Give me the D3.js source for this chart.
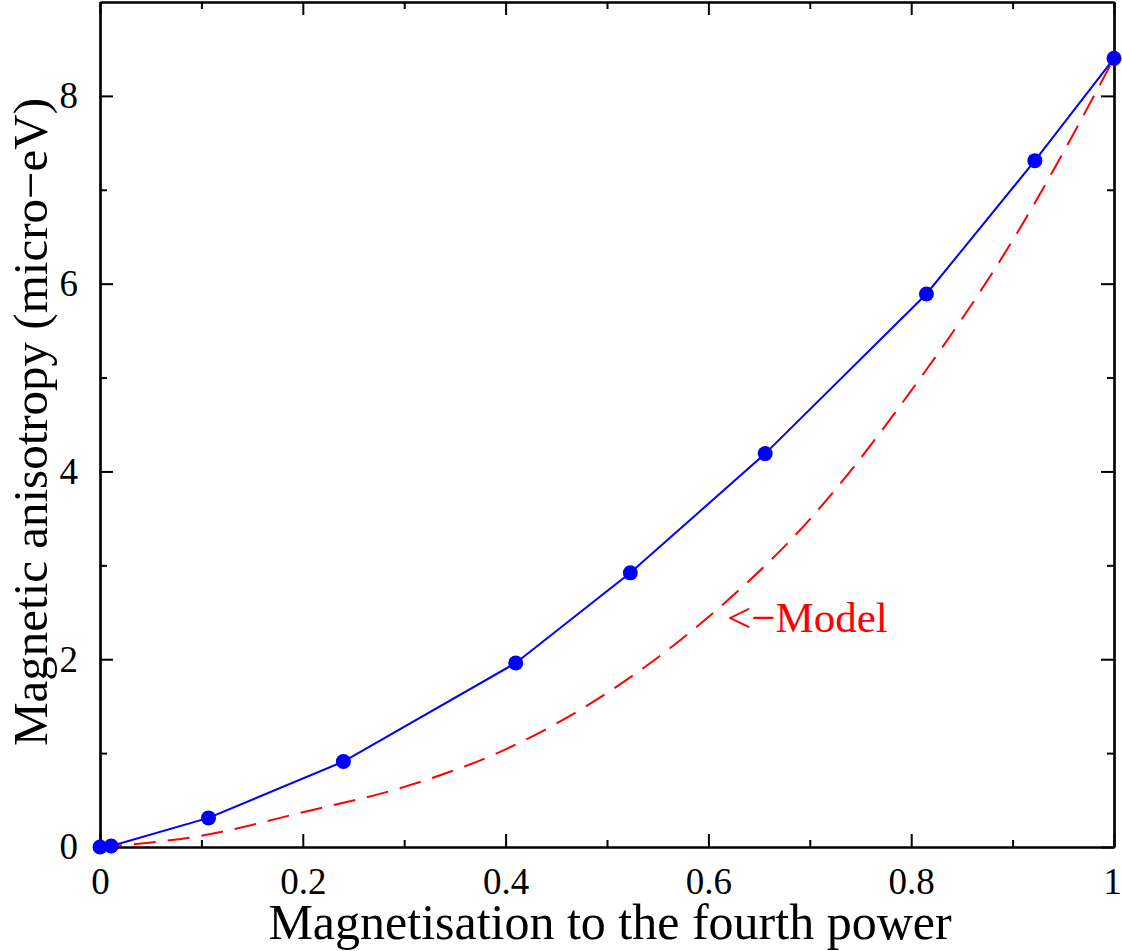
<!DOCTYPE html>
<html>
<head>
<meta charset="utf-8">
<script src="https://cdn.jsdelivr.net/npm/d3@7"></script>
<style>
  html, body { margin: 0; padding: 0; background: #fff; }
  svg { display: block; }
  svg text { font-family: "Liberation Serif", "Times New Roman", serif; }
</style>
</head>
<body>
<svg id="chart" width="1122" height="951"></svg>
<script>
// Data
const dataX = [0, 0.011, 0.107, 0.240, 0.410, 0.523, 0.656, 0.815, 0.922, 1.0];
const dataY = [0, 0.01, 0.31, 0.91, 1.96, 2.92, 4.19, 5.89, 7.31, 8.40];
const modelX = [0, 0.1, 0.2, 0.3, 0.4, 0.5, 0.6, 0.7, 0.8, 0.9, 1.0];
const modelY = [0, 0.12, 0.37, 0.64, 1.04, 1.64, 2.45, 3.49, 4.86, 6.46, 8.40];
const xMajorTicks = [0, 0.2, 0.4, 0.6, 0.8, 1];
const xTickLabels = ["0", "0.2", "0.4", "0.6", "0.8", "1"];
const xMinorTicks = [0.1, 0.3, 0.5, 0.7, 0.9];
const yMajorTicks = [0, 2, 4, 6, 8];
const yTickLabels = ["0", "2", "4", "6", "8"];
const yMinorTicks = [1, 3, 5, 7];
const xTitle = "Magnetisation to the fourth power";
const yTitle = "Magnetic anisotropy (micro\u2212eV)";
const modelLabel = "<\u2212Model";

const svg = d3.select("#chart");
const L = 100, R = 1114, T = 2, B = 847;
const x = d3.scaleLinear().domain([0, 1]).range([L, R]);
const y = d3.scaleLinear().domain([0, 9]).range([B, T]);

const majorLen = 13, minorLen = 7;
const FONT = "Liberation Serif";

function styleAxis(g) {
  g.attr("font-family", FONT);
  g.selectAll("path.domain").attr("stroke", "#000").attr("stroke-width", 2.2);
  g.selectAll(".tick line").attr("stroke", "#000").attr("stroke-width", 2);
}
// bottom
const gxB = svg.append("g").attr("transform", `translate(0,${B})`)
  .call(d3.axisBottom(x).tickValues(xMajorTicks).tickSizeInner(-majorLen).tickSizeOuter(0)
    .tickPadding(majorLen + 8).tickFormat((d, i) => xTickLabels[i]));
gxB.selectAll("text").attr("font-size", 37).attr("fill", "#000")
  .attr("dx", (d, i) => i === xMajorTicks.length - 1 ? -2 : 0);
styleAxis(gxB);
styleAxis(svg.append("g").attr("transform", `translate(0,${B})`)
  .call(d3.axisBottom(x).tickValues(xMinorTicks).tickSizeInner(-minorLen).tickSizeOuter(0).tickFormat("")));
// top
styleAxis(svg.append("g").attr("transform", `translate(0,${T})`)
  .call(d3.axisTop(x).tickValues(xMajorTicks).tickSizeInner(-majorLen).tickSizeOuter(0).tickFormat("")));
styleAxis(svg.append("g").attr("transform", `translate(0,${T})`)
  .call(d3.axisTop(x).tickValues(xMinorTicks).tickSizeInner(-minorLen).tickSizeOuter(0).tickFormat("")));
// left
const gyL = svg.append("g").attr("transform", `translate(${L},0)`)
  .call(d3.axisLeft(y).tickValues(yMajorTicks).tickSizeInner(-majorLen).tickSizeOuter(0)
    .tickPadding(majorLen + 9).tickFormat((d, i) => yTickLabels[i]));
gyL.selectAll("text").attr("font-size", 37).attr("fill", "#000");
styleAxis(gyL);
styleAxis(svg.append("g").attr("transform", `translate(${L},0)`)
  .call(d3.axisLeft(y).tickValues(yMinorTicks).tickSizeInner(-minorLen).tickSizeOuter(0).tickFormat("")));
// right
styleAxis(svg.append("g").attr("transform", `translate(${R},0)`)
  .call(d3.axisRight(y).tickValues(yMajorTicks).tickSizeInner(-majorLen).tickSizeOuter(0).tickFormat("")));
styleAxis(svg.append("g").attr("transform", `translate(${R},0)`)
  .call(d3.axisRight(y).tickValues(yMinorTicks).tickSizeInner(-minorLen).tickSizeOuter(0).tickFormat("")));

// Model dashed curve
const model = modelX.map((d, i) => [d, modelY[i]]);
svg.append("path").datum(model)
  .attr("fill", "none").attr("stroke", "#ff0000").attr("stroke-width", 2)
  .attr("stroke-dasharray", "22,12")
  .attr("d", d3.line().x(d => x(d[0])).y(d => y(d[1])).curve(d3.curveMonotoneX));

// Data line
const data = dataX.map((d, i) => [d, dataY[i]]);
svg.append("path").datum(data)
  .attr("fill", "none").attr("stroke", "#0000ff").attr("stroke-width", 2)
  .attr("d", d3.line().x(d => x(d[0])).y(d => y(d[1])));
svg.append("g").selectAll("circle").data(data).join("circle")
  .attr("cx", d => x(d[0])).attr("cy", d => y(d[1])).attr("r", 7.5).attr("fill", "#0000ff");

// Model label
svg.append("text").attr("x", 727).attr("y", 632).attr("font-size", 43).attr("fill", "#ff0000")
  .attr("font-family", FONT).text(modelLabel);

// Titles
svg.append("text").attr("x", 610).attr("y", 939).attr("text-anchor", "middle")
  .attr("font-size", 50).attr("fill", "#000").attr("font-family", FONT).text(xTitle);
svg.append("text").attr("transform", `translate(47,422) rotate(-90)`)
  .attr("text-anchor", "middle").attr("font-size", 49).attr("fill", "#000").attr("font-family", FONT).text(yTitle);
</script>
</body>
</html>
